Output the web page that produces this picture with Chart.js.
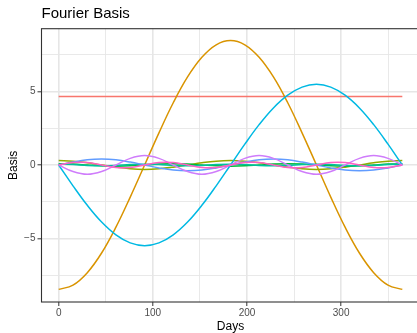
<!DOCTYPE html>
<html>
<head>
<meta charset="utf-8">
<script src="https://cdn.jsdelivr.net/npm/chart.js@4/dist/chart.umd.min.js"></script>
<style>
  html, body { margin: 0; padding: 0; background: #fff; overflow: hidden; }
  #wrap { width: 417px; height: 333px; overflow: hidden; }
</style>
</head>
<body>
<div id="wrap"><canvas id="basisChart" width="424" height="333"></canvas></div>
<script>
// Days sampled across the year
const days = [0, 15.2, 30.4, 45.6, 60.8, 76, 91.3, 106.5, 121.7, 136.9, 152.1, 167.3, 182.5,
  197.7, 212.9, 228.1, 243.3, 258.5, 273.8, 289, 304.2, 319.4, 334.6, 349.8, 365];

// Basis curves (scaled)
const constBasis = [4.66, 4.66, 4.66, 4.66, 4.66, 4.66, 4.66, 4.66, 4.66, 4.66, 4.66, 4.66, 4.66,
  4.66, 4.66, 4.66, 4.66, 4.66, 4.66, 4.66, 4.66, 4.66, 4.66, 4.66, 4.66];
const cos1 = [-8.48, -8.19, -7.34, -6.0, -4.24, -2.19, 0, 2.19, 4.24, 6.0, 7.34, 8.19, 8.48,
  8.19, 7.34, 6.0, 4.24, 2.19, 0, -2.19, -4.24, -6.0, -7.34, -8.19, -8.48];
const cos2 = [0.3, 0.26, 0.15, 0, -0.15, -0.26, -0.3, -0.26, -0.15, 0, 0.15, 0.26, 0.3,
  0.26, 0.15, 0, -0.15, -0.26, -0.3, -0.26, -0.15, 0, 0.15, 0.26, 0.3];
const cos3 = [0.08, 0.06, 0, -0.06, -0.08, -0.06, 0, 0.06, 0.08, 0.06, 0, -0.06, -0.08,
  -0.06, 0, 0.06, 0.08, 0.06, 0, -0.06, -0.08, -0.06, 0, 0.06, 0.08];
const cos4 = [0.05, 0.03, -0.03, -0.05, -0.03, 0.03, 0.05, 0.03, -0.03, -0.05, -0.03, 0.03, 0.05,
  0.03, -0.03, -0.05, -0.03, 0.03, 0.05, 0.03, -0.03, -0.05, -0.03, 0.03, 0.05];
const sin1 = [0, -1.42, -2.75, -3.89, -4.76, -5.31, -5.5, -5.31, -4.76, -3.89, -2.75, -1.42, 0,
  1.42, 2.75, 3.89, 4.76, 5.31, 5.5, 5.31, 4.76, 3.89, 2.75, 1.42, 0];
const sin2 = [0, 0.2, 0.35, 0.4, 0.35, 0.2, 0, -0.2, -0.35, -0.4, -0.35, -0.2, 0,
  0.2, 0.35, 0.4, 0.35, 0.2, 0, -0.2, -0.35, -0.4, -0.35, -0.2, 0];
const sin3 = [0, -0.45, -0.64, -0.45, 0, 0.45, 0.64, 0.45, 0, -0.45, -0.64, -0.45, 0,
  0.45, 0.64, 0.45, 0, -0.45, -0.64, -0.45, 0, 0.45, 0.64, 0.45, 0];
const sin4 = [0, 0.17, 0.17, 0, -0.17, -0.17, 0, 0.17, 0.17, 0, -0.17, -0.17, 0,
  0.17, 0.17, 0, -0.17, -0.17, 0, 0.17, 0.17, 0, -0.17, -0.17, 0];

const seriesNames = ['const', 'cos1', 'cos2', 'cos3', 'cos4', 'sin1', 'sin2', 'sin3', 'sin4'];
const seriesValues = [constBasis, cos1, cos2, cos3, cos4, sin1, sin2, sin3, sin4];
const seriesColors = ['#F8766D', '#D99400', '#93AA00', '#00BA38', '#00C19F',
  '#00B9E3', '#619CFF', '#CF7CFB', '#FF61C3'];

// Axis ticks: labelled majors plus unlabelled minors
const xGrid = [0, 50, 100, 150, 200, 250, 300, 350];
const xLabels = [0, 100, 200, 300];
const yGrid = [-7.5, -5, -2.5, 0, 2.5, 5, 7.5];
const yLabels = [-5, 0, 5];

const FONT = '"Liberation Sans", Arial, sans-serif';

const panelFrame = {
  id: 'panelFrame',
  afterDatasetsDraw(chart) {
    const {ctx, chartArea: a} = chart;
    ctx.save();
    ctx.strokeStyle = '#333333';
    ctx.lineWidth = 1.1;
    ctx.strokeRect(a.left, a.top, a.right - a.left, a.bottom - a.top);
    ctx.restore();
  },
  afterDraw(chart) {
    const {ctx, chartArea: a} = chart;
    ctx.save();
    ctx.fillStyle = '#000000';
    ctx.font = '15px ' + FONT;
    ctx.textBaseline = 'middle';
    ctx.textAlign = 'left';
    ctx.fillText('Fourier Basis', a.left, 14);
    ctx.restore();
  }
};

// ggplot draws the last group on top; Chart.js draws the first dataset on top
const datasets = seriesNames.map((name, i) => ({
  label: name,
  data: days.map((d, j) => ({x: d, y: seriesValues[i][j]})),
  borderColor: seriesColors[i],
  borderWidth: 1.5,
  pointRadius: 0,
  tension: 0.4,
  fill: false
})).reverse();

const ctx = document.getElementById('basisChart').getContext('2d');
new Chart(ctx, {
  type: 'line',
  data: { datasets: datasets },
  options: {
    responsive: false,
    animation: false,
    layout: { padding: { top: 28.7, right: 4.5, bottom: 0, left: 0 } },
    plugins: {
      legend: { display: false },
      tooltip: { enabled: false },
      title: { display: false }
    },
    scales: {
      x: {
        type: 'linear',
        min: -18.25,
        max: 383.25,
        afterBuildTicks: (scale) => { scale.ticks = xGrid.map(v => ({value: v})); },
        afterFit: (scale) => { scale.height = 31; },
        border: { display: false },
        grid: {
          color: '#E6E6E6',
          lineWidth: (c) => xLabels.includes(c.tick.value) ? 1.6 : 0.9,
          tickColor: (c) => xLabels.includes(c.tick.value) ? '#333333' : 'rgba(0,0,0,0)',
          tickLength: 4,
          tickWidth: 1
        },
        ticks: {
          autoSkip: false,
          maxRotation: 0,
          padding: 1.5,
          color: '#4D4D4D',
          font: { family: FONT, size: 10 },
          callback: (v) => xLabels.includes(v) ? String(v) : ''
        },
        title: {
          display: true,
          text: 'Days',
          color: '#000000',
          font: { family: FONT, size: 12, lineHeight: 1.05 },
          padding: { top: 0, bottom: 0 }
        }
      },
      y: {
        type: 'linear',
        min: -9.34,
        max: 9.29,
        afterBuildTicks: (scale) => { scale.ticks = yGrid.map(v => ({value: v})); },
        afterFit: (scale) => { scale.width = 41.5; },
        border: { display: false },
        grid: {
          color: '#E6E6E6',
          lineWidth: (c) => yLabels.includes(c.tick.value) ? 1.6 : 0.9,
          tickColor: (c) => yLabels.includes(c.tick.value) ? '#333333' : 'rgba(0,0,0,0)',
          tickLength: 4,
          tickWidth: 1
        },
        ticks: {
          autoSkip: false,
          padding: 2,
          color: '#4D4D4D',
          font: { family: FONT, size: 10 },
          callback: (v) => yLabels.includes(v) ? String(v).replace('-', '\u2212') : ''
        },
        title: {
          display: true,
          text: 'Basis',
          color: '#000000',
          font: { family: FONT, size: 12, lineHeight: 1.2 },
          padding: { top: 6, bottom: 0 }
        }
      }
    }
  },
  plugins: [panelFrame]
});
</script>
</body>
</html>
